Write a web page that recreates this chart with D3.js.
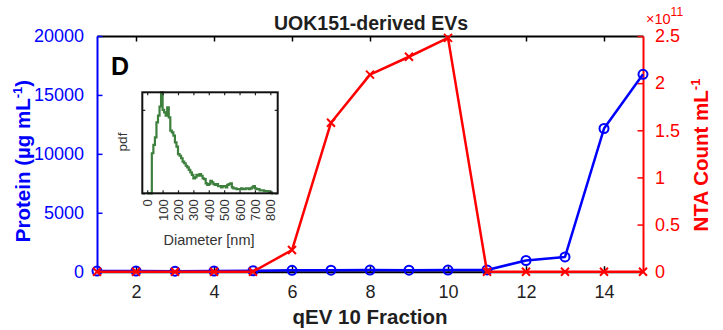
<!DOCTYPE html>
<html>
<head>
<meta charset="utf-8">
<script src="https://cdn.jsdelivr.net/npm/d3@7"></script>
<style>
  html, body { margin: 0; padding: 0; background: #fff; }
  svg { display: block; font-family: "Liberation Sans", Arial, Helvetica, sans-serif; }
</style>
</head>
<body>
<svg id="chart" width="723" height="330"></svg>
<script>
// qEV 10 fractions
const fractions = [1, 2, 3, 4, 5, 6, 7, 8, 9, 10, 11, 12, 13, 14, 15];
// Protein concentration (µg mL^-1) per fraction
const protein = [50, 60, 40, 60, 80, 120, 130, 140, 130, 140, 150, 950, 1250, 12150, 16750];
// NTA particle count (mL^-1) per fraction
const ntaCount = [0, 0, 0, 0, 0, 0.23e11, 1.58e11, 2.09e11, 2.28e11, 2.48e11, 0, 0, 0, 0, 0];

const xTicks = [2, 4, 6, 8, 10, 12, 14];
const leftTicks = [0, 5000, 10000, 15000, 20000];
const rightTicks = [0, 0.5e11, 1e11, 1.5e11, 2e11, 2.5e11];

// Size distribution (pdf, ×10^-3 nm^-1) in 10 nm bins starting at 0 nm
const binStart = 0;
const binWidth = 10;
const pdfValues = [0, 0, 0, 4.8, 5.8, 6.7, 8.5, 9.3, 10.4, 12.1, 10.0, 9.7, 9.3, 10.3, 9.1,
  7.5, 7.3, 6.9, 6.1, 5.6, 4.7, 4.5, 4.2, 3.8, 3.6, 3.3, 3.1, 2.8, 2.5, 2.2, 1.8, 1.9,
  2.2, 2.1, 2.3, 2.1, 1.8, 1.7, 1.2, 1.0, 1.1, 1.5, 1.3, 1.1, 1.0, 1.1, 0.85, 0.85, 0.7,
  0.85, 0.85, 0.7, 1.0, 1.1, 1.2, 0.7, 0.6, 0.6, 0.5, 0.5, 0.5, 0.6, 0.5, 0.5, 0.6, 0.6,
  0.5, 0.6, 0.7, 0.85, 0.6, 0.5, 0.5, 0.35, 0.35, 0.35, 0.25, 0.25, 0.25, 0.12, 0.12, 0.0];
const insetXTicks = [0, 100, 200, 300, 400, 500, 600, 700, 800];
const insetYTicks = [0, 10];

const BLUE = "#0000ff", RED = "#ff0000", GREEN = "#3d7f3d", INK = "#1f1f1f";

const svg = d3.select("#chart");
const m = { left: 97, top: 36, right: 80, bottom: 58.3 };
const W = 723 - m.left - m.right;
const H = 330 - m.top - m.bottom;
const g = svg.append("g").attr("transform", `translate(${m.left},${m.top})`);

const x = d3.scaleLinear().domain([1, 15]).range([0, W]);
const yL = d3.scaleLinear().domain([0, 20000]).range([H, 0]);
const yR = d3.scaleLinear().domain([0, 2.5e11]).range([H, 0]);

const tickLen = 5.5;

// Bottom axis (ticks point inward)
const xb = g.append("g").attr("transform", `translate(0,${H})`)
  .call(d3.axisBottom(x).tickValues(xTicks).tickSizeInner(-tickLen).tickSizeOuter(0).tickPadding(14));
// Top axis
const xt = g.append("g")
  .call(d3.axisTop(x).tickValues(xTicks).tickSizeInner(-tickLen).tickSizeOuter(0).tickFormat(""));
[xb, xt].forEach(a => {
  a.select(".domain").attr("stroke", "#000").attr("stroke-width", 2);
  a.selectAll(".tick line").attr("stroke", "#000").attr("stroke-width", 1.5);
});
xb.selectAll(".tick text").attr("fill", INK).attr("font-size", 18);

// Left axis (protein)
const al = g.append("g")
  .call(d3.axisLeft(yL).tickValues(leftTicks).tickSizeInner(-tickLen).tickSizeOuter(0).tickPadding(13)
    .tickFormat(d3.format("d")));
al.select(".domain").attr("stroke", BLUE).attr("stroke-width", 2);
al.selectAll(".tick line").attr("stroke", BLUE).attr("stroke-width", 1.5);
al.selectAll(".tick text").attr("fill", BLUE).attr("font-size", 18);

// Right axis (NTA)
const ar = g.append("g").attr("transform", `translate(${W},0)`)
  .call(d3.axisRight(yR).tickValues(rightTicks).tickSizeInner(-tickLen).tickSizeOuter(0).tickPadding(12)
    .tickFormat(d => d3.format("~g")(d / 1e11)));
ar.select(".domain").attr("stroke", RED).attr("stroke-width", 2);
ar.selectAll(".tick line").attr("stroke", RED).attr("stroke-width", 1.5);
ar.selectAll(".tick text").attr("fill", RED).attr("font-size", 18);

// Exponent label for the right axis
const expo = svg.append("text").attr("x", 646).attr("y", 24).attr("fill", RED).attr("font-size", 14.5);
expo.append("tspan").text("×10");
expo.append("tspan").attr("font-size", 12).attr("dy", -8).text("11");

// Protein series
g.append("path")
  .datum(fractions.map((f, i) => [f, protein[i]]))
  .attr("fill", "none").attr("stroke", BLUE).attr("stroke-width", 2.5).attr("stroke-linejoin", "round")
  .attr("d", d3.line().x(d => x(d[0])).y(d => yL(d[1])));
g.selectAll(".pmark").data(fractions).join("circle").attr("class", "pmark")
  .attr("cx", d => x(d)).attr("cy", (d, i) => yL(protein[i])).attr("r", 4.5)
  .attr("fill", "none").attr("stroke", BLUE).attr("stroke-width", 2);

// NTA series
g.append("path")
  .datum(fractions.map((f, i) => [f, ntaCount[i]]))
  .attr("fill", "none").attr("stroke", RED).attr("stroke-width", 2.5).attr("stroke-linejoin", "round")
  .attr("d", d3.line().x(d => x(d[0])).y(d => yR(d[1])));
const cross = 4;
g.selectAll(".nmark").data(fractions).join("path").attr("class", "nmark")
  .attr("transform", (d, i) => `translate(${x(d)},${yR(ntaCount[i])})`)
  .attr("d", `M${-cross},${-cross}L${cross},${cross}M${-cross},${cross}L${cross},${-cross}`)
  .attr("stroke", RED).attr("stroke-width", 2);

// Titles and labels
svg.append("text").attr("x", 371).attr("y", 30).attr("text-anchor", "middle")
  .attr("font-size", 19.5).attr("font-weight", "bold").attr("fill", INK).text("UOK151-derived EVs");
svg.append("text").attr("x", 370).attr("y", 324).attr("text-anchor", "middle")
  .attr("font-size", 20.5).attr("font-weight", "bold").attr("fill", INK).text("qEV 10 Fraction");

const ylab = svg.append("text").attr("transform", "translate(30,161) rotate(-90)")
  .attr("text-anchor", "middle").attr("font-size", 20.5).attr("font-weight", "bold").attr("fill", BLUE);
ylab.append("tspan").text("Protein (µg mL");
ylab.append("tspan").attr("font-size", 13).attr("dy", -8).text("-1");
ylab.append("tspan").attr("dy", 8).text(")");

const rlab = svg.append("text").attr("transform", "translate(708,155) rotate(-90)")
  .attr("text-anchor", "middle").attr("font-size", 20.5).attr("font-weight", "bold").attr("fill", RED);
rlab.append("tspan").text("NTA Count mL");
rlab.append("tspan").attr("font-size", 13).attr("dy", -8).text("-1");

svg.append("text").attr("x", 111).attr("y", 75).attr("font-size", 25).attr("font-weight", "bold")
  .attr("fill", "#000").text("D");

// Inset: size distribution
const ib = { x: 142.3, y: 92.3, w: 135.4, h: 101 };
const ig = svg.append("g").attr("transform", `translate(${ib.x},${ib.y})`);
const ix = d3.scaleLinear().domain([-32, 848]).range([0, ib.w]);
const iy = d3.scaleLinear().domain([0, 12.1]).range([ib.h, 0]);
ig.append("rect").attr("width", ib.w).attr("height", ib.h).attr("fill", "#fff");

const stairs = [];
pdfValues.forEach((v, i) => {
  const x0 = binStart + i * binWidth;
  stairs.push([x0, v], [x0 + binWidth, v]);
});
ig.append("path").datum(stairs)
  .attr("fill", "none").attr("stroke", GREEN).attr("stroke-width", 2.2)
  .attr("d", d3.line().x(d => ix(d[0])).y(d => iy(d[1])));

const it = 3;
const ibx = ig.append("g").attr("transform", `translate(0,${ib.h})`)
  .call(d3.axisBottom(ix).tickValues(insetXTicks).tickSizeInner(-it).tickSizeOuter(0).tickPadding(5));
ig.append("g").call(d3.axisTop(ix).tickValues(insetXTicks).tickSizeInner(-it).tickSizeOuter(0).tickFormat(""));
ig.append("g").call(d3.axisLeft(iy).tickValues(insetYTicks).tickSizeInner(-it).tickSizeOuter(0).tickFormat(""));
ig.append("g").attr("transform", `translate(${ib.w},0)`)
  .call(d3.axisRight(iy).tickValues(insetYTicks).tickSizeInner(-it).tickSizeOuter(0).tickFormat(""));
ig.selectAll(".domain").remove();
ig.selectAll(".tick line").attr("stroke", "#222").attr("stroke-width", 1.2);
ibx.selectAll(".tick text")
  .attr("fill", "#333").attr("font-size", 13)
  .attr("transform", "rotate(-90)")
  .attr("text-anchor", "end").attr("dy", "0.35em")
  .attr("x", -6).attr("y", 0);
ig.append("rect").attr("width", ib.w).attr("height", ib.h)
  .attr("fill", "none").attr("stroke", "#111").attr("stroke-width", 2);

svg.append("text").attr("x", 209).attr("y", 245).attr("text-anchor", "middle")
  .attr("font-size", 14.5).attr("fill", "#333").text("Diameter [nm]");
svg.append("text").attr("transform", "translate(127,142) rotate(-90)").attr("text-anchor", "middle")
  .attr("font-size", 13.5).attr("fill", "#333").text("pdf");
</script>
</body>
</html>
